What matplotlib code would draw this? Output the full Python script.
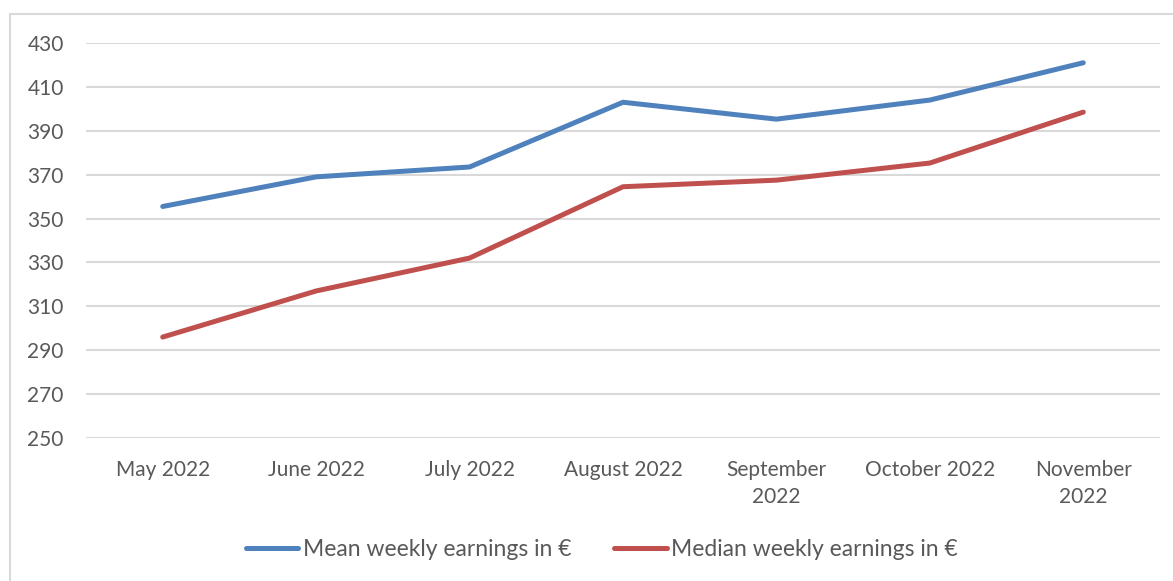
import matplotlib
matplotlib.use("Agg")
import matplotlib.pyplot as plt
from matplotlib.patches import Rectangle

months = ["May 2022", "June 2022", "July 2022", "August 2022",
          "September\n2022", "October 2022", "November\n2022"]
mean_earnings = [355.5, 369, 373.5, 403, 395.3, 404, 421]
median_earnings = [296, 317, 332, 364.5, 367.5, 375.3, 398.5]

plt.rcParams['font.family'] = ['Lato', 'DejaVu Sans']
grey = '#595959'

fig = plt.figure(figsize=(11.73, 5.81), dpi=100)
ax = fig.add_axes([86 / 1173, 1 - 438 / 581, 1074 / 1173, 395 / 581])

x = list(range(len(months)))
ax.plot(x, mean_earnings, color='#4f81bd', lw=3.6, solid_capstyle='round',
        label='Mean weekly earnings in €')
ax.plot(x, median_earnings, color='#c0504d', lw=3.6, solid_capstyle='round',
        label='Median weekly earnings in €')

ax.set_xlim(-0.5, 6.5)
ax.set_ylim(250, 430)
ax.set_yticks(range(250, 431, 20))
ax.set_xticks(x)
ax.set_xticklabels(months, fontsize=15, color=grey, linespacing=1.4)
ax.tick_params(axis='y', labelsize=15, labelcolor=grey, length=0, pad=16)
ax.tick_params(axis='x', length=0, pad=16)
ax.grid(axis='y', color='#d9d9d9', lw=1.5)
ax.set_axisbelow(True)
for s in ax.spines.values():
    s.set_visible(False)

leg = fig.legend(loc='center', bbox_to_anchor=(0.513, 1 - 550 / 581), ncol=2,
                 frameon=False, fontsize=16.5, handlelength=2.3, handletextpad=0.2,
                 columnspacing=1.85)
for t in leg.get_texts():
    t.set_color(grey)

fig.patches.append(Rectangle((10 / 1173, -0.1), 1.2, 1 - 14 / 581 + 0.1,
                             transform=fig.transFigure, fill=False,
                             edgecolor='#d9d9d9', lw=1.5))

fig.savefig('out.png', dpi=100)
